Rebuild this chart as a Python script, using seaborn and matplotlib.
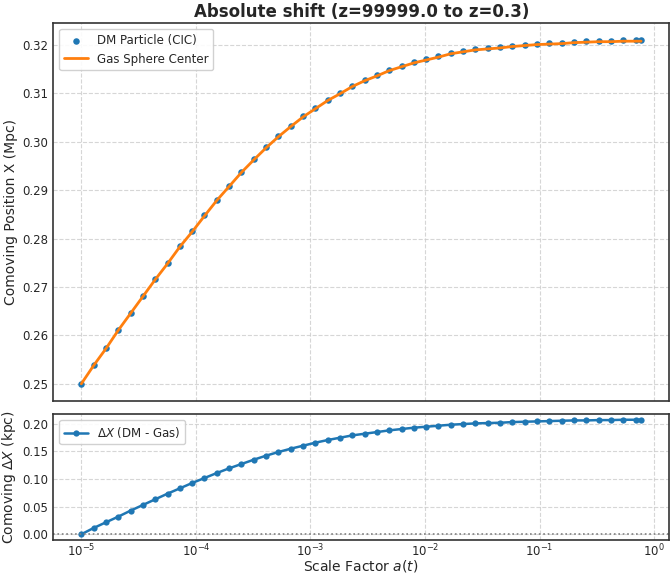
import numpy as np
import pandas as pd
import matplotlib
matplotlib.use("Agg")
import matplotlib.pyplot as plt
from matplotlib.ticker import MultipleLocator, FormatStrFormatter
import seaborn as sns

# Scale factor samples (log-spaced snapshots + final z=0.3)
scale_factor = [
    1.000e-05, 1.281e-05, 1.641e-05, 2.101e-05, 2.692e-05, 3.447e-05, 4.416e-05, 5.656e-05,
    7.244e-05, 9.279e-05, 1.189e-04, 1.522e-04, 1.950e-04, 2.497e-04, 3.199e-04, 4.097e-04,
    5.248e-04, 6.722e-04, 8.610e-04, 1.103e-03, 1.413e-03, 1.809e-03, 2.317e-03, 2.968e-03,
    3.802e-03, 4.870e-03, 6.237e-03, 7.989e-03, 1.023e-02, 1.311e-02, 1.679e-02, 2.151e-02,
    2.754e-02, 3.528e-02, 4.519e-02, 5.788e-02, 7.413e-02, 9.495e-02, 1.216e-01, 1.558e-01,
    1.995e-01, 2.556e-01, 3.273e-01, 4.193e-01, 5.370e-01, 6.879e-01, 7.692e-01,
]

# DM particle comoving position (Mpc)
dm_x = [
    0.2500, 0.2538, 0.2573, 0.2611, 0.2646, 0.2681, 0.2716, 0.2749,
    0.2784, 0.2815, 0.2848, 0.2880, 0.2909, 0.2938, 0.2964, 0.2989,
    0.3012, 0.3033, 0.3053, 0.3070, 0.3087, 0.3101, 0.3116, 0.3128,
    0.3138, 0.3149, 0.3157, 0.3165, 0.3171, 0.3177, 0.3184, 0.3188,
    0.3192, 0.3194, 0.3196, 0.3199, 0.3201, 0.3203, 0.3204, 0.3205,
    0.3207, 0.3208, 0.3209, 0.3209, 0.3210, 0.3210, 0.3210,
]

# DM - Gas offset (kpc)
delta_x_kpc = [
    0.0000, 0.0114, 0.0217, 0.0319, 0.0428, 0.0530, 0.0633, 0.0735,
    0.0831, 0.0928, 0.1018, 0.1108, 0.1193, 0.1271, 0.1349, 0.1422,
    0.1488, 0.1548, 0.1602, 0.1657, 0.1705, 0.1747, 0.1789, 0.1819,
    0.1849, 0.1880, 0.1904, 0.1928, 0.1946, 0.1964, 0.1982, 0.1994,
    0.2006, 0.2012, 0.2018, 0.2030, 0.2036, 0.2042, 0.2048, 0.2054,
    0.2060, 0.2060, 0.2066, 0.2066, 0.2072, 0.2072, 0.2072,
]

df = pd.DataFrame({"a": scale_factor, "dm": dm_x, "dx": delta_x_kpc})
df["gas"] = df["dm"] - df["dx"] / 1000.0

sns.set_style("white")
plt.rcParams["font.family"] = ["DejaVu Sans"]
plt.rcParams["axes.edgecolor"] = "#333333"
plt.rcParams["axes.linewidth"] = 1.2

fig = plt.figure(figsize=(6.7, 5.74), dpi=100)
ax1 = fig.add_axes([0.0796, 0.3014, 0.919, 0.6585])
ax2 = fig.add_axes([0.0796, 0.0592, 0.919, 0.2195], sharex=ax1)

sns.scatterplot(data=df, x="a", y="dm", ax=ax1, color="C0", s=22, linewidth=0,
                label="DM Particle (CIC)", zorder=2)
sns.lineplot(data=df, x="a", y="gas", ax=ax1, color="C1", linewidth=2,
             label="Gas Sphere Center", zorder=3)

sns.lineplot(data=df, x="a", y="dx", ax=ax2, color="C0", linewidth=1.8,
             marker="o", markersize=4.5, markeredgewidth=0,
             label=r"$\Delta X$ (DM - Gas)")
ax2.axhline(0, color="gray", linestyle=":", linewidth=1.2)

ax1.set_xscale("log")
ax2.yaxis.set_major_locator(MultipleLocator(0.05))
ax2.yaxis.set_major_formatter(FormatStrFormatter("%.2f"))
for ax in (ax1, ax2):
    ax.grid(True, linestyle="--", color="#cccccc", alpha=0.8, linewidth=0.8)
    ax.tick_params(direction="in", which="both", labelsize=8.5, color="#333333")
    ax.tick_params(which="major", length=4)
    ax.tick_params(which="minor", length=2)
    ax.legend(loc="upper left", fontsize=8.5, frameon=True, framealpha=0.9)
ax2.tick_params(axis="x", pad=2)

plt.setp(ax1.get_xticklabels(), visible=False)
ax1.set_xlabel("")
ax1.set_ylabel("Comoving Position X (Mpc)", fontsize=10)
ax2.set_ylabel(r"Comoving $\Delta X$ (kpc)", fontsize=10)
ax1.yaxis.set_label_coords(-0.057, 0.5)
ax2.yaxis.set_label_coords(-0.057, 0.5)
ax2.set_xlabel(r"Scale Factor $a(t)$", fontsize=10, va="center")
ax2.xaxis.set_label_coords(0.5, -0.205)
ax1.set_title("Absolute shift (z=99999.0 to z=0.3)", fontsize=12, fontweight="bold", pad=4)

fig.savefig("out.png", dpi=100)
